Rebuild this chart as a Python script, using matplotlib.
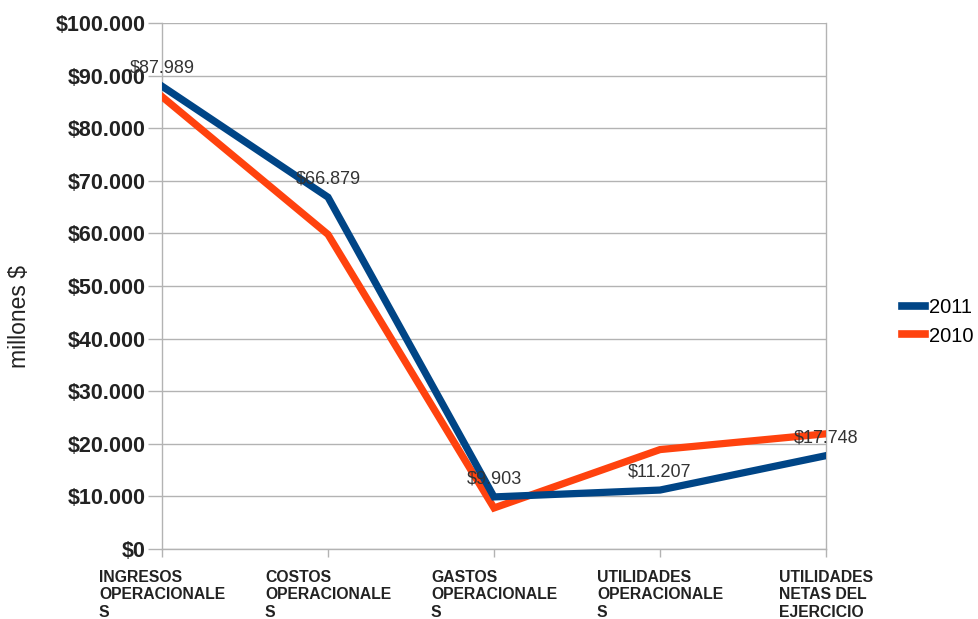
import matplotlib
matplotlib.use("Agg")
import matplotlib.pyplot as plt
from matplotlib.lines import Line2D

categories = ["INGRESOS\nOPERACIONALE\nS", "COSTOS\nOPERACIONALE\nS",
              "GASTOS\nOPERACIONALE\nS", "UTILIDADES\nOPERACIONALE\nS",
              "UTILIDADES\nNETAS DEL\nEJERCICIO"]
values_2011 = [87989, 66879, 9903, 11207, 17748]
values_2010 = [86000, 59800, 7800, 18900, 21900]
labels_2011 = ["$87.989", "$66.879", "$9.903", "$11.207", "$17.748"]
yticks = [0, 10000, 20000, 30000, 40000, 50000, 60000, 70000, 80000, 90000, 100000]
ytick_labels = ["$0", "$10.000", "$20.000", "$30.000", "$40.000", "$50.000",
                "$60.000", "$70.000", "$80.000", "$90.000", "$100.000"]

plt.rcParams['font.family'] = ['Liberation Sans', 'DejaVu Sans']

W, H = 979, 619
fig = plt.figure(figsize=(W / 100, H / 100), dpi=100)
ax = fig.add_axes([162 / W, (H - 549) / H, (826 - 162) / W, (549 - 23) / H])

blue = "#004586"
orange = "#ff420e"
x = list(range(len(categories)))

ax.plot(x, values_2010, color=orange, lw=5.2, solid_joinstyle='miter', zorder=3)
ax.plot(x, values_2011, color=blue, lw=5.2, solid_joinstyle='miter', zorder=4)

for xi, v, lab in zip(x, values_2011, labels_2011):
    ax.annotate(lab, (xi, v), xytext=(0, 13), textcoords='offset points',
                ha='center', va='center', fontsize=13, color='#333333', zorder=5)

ax.set_xlim(0, 4)
ax.set_ylim(0, 100000)
ax.set_yticks(yticks)
ax.set_yticklabels(ytick_labels, fontsize=15.5, fontweight='bold', color='#222222')
ax.set_xticks(x)
ax.set_xticklabels([])
ax.yaxis.grid(True, color='#b3b3b3', lw=1)
ax.set_axisbelow(True)
ax.tick_params(axis='y', length=10, color='#b3b3b3', width=1, pad=2)
ax.tick_params(axis='x', length=6, color='#b3b3b3', width=1)

ax.spines['top'].set_visible(False)
for s in ['left', 'right', 'bottom']:
    ax.spines[s].set_color('#b3b3b3')
    ax.spines[s].set_linewidth(1)

for xi, c in zip(x, categories):
    ax.annotate(c, (xi, 0), xytext=(0, -15), textcoords='offset points',
                xycoords='data', ha='center', va='top', multialignment='left',
                fontsize=11.3, fontweight='bold', color='#222222', linespacing=1.22,
                annotation_clip=False)

fig.text(20 / W, 1 - 316 / H, "millones $", rotation=90, ha='center', va='center',
         fontsize=16.5, color='#222222')

handles = [Line2D([0], [0], color=blue, lw=5.5), Line2D([0], [0], color=orange, lw=5.5)]
fig.legend(handles, ["2011", "2010"], loc='center left',
           bbox_to_anchor=(902 / W, 1 - 322 / H), frameon=False, fontsize=14.5,
           handlelength=1.15, handletextpad=0.2, labelspacing=0.45, borderaxespad=0,
           borderpad=0)

fig.savefig("out.png", dpi=100)
